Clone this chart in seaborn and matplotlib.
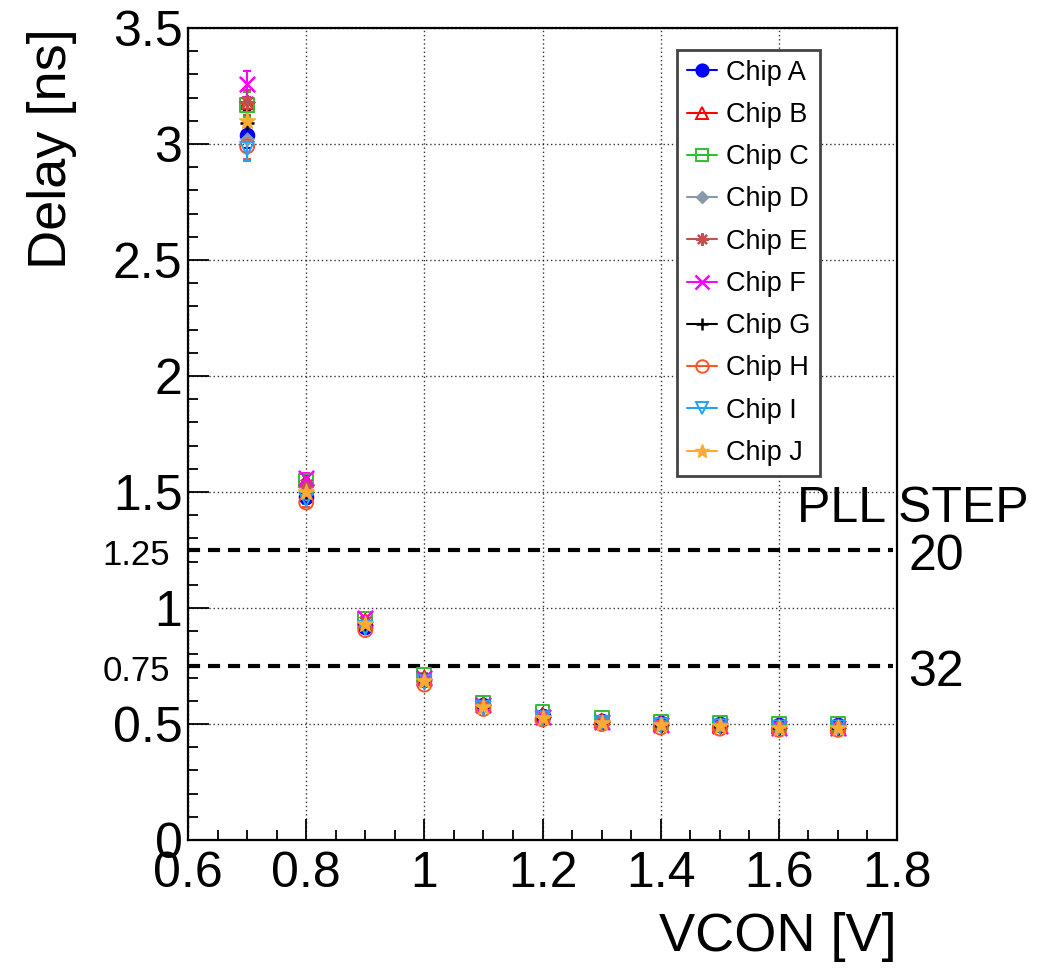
import numpy as np
import pandas as pd
import seaborn as sns
import matplotlib
matplotlib.use("Agg")
import matplotlib.pyplot as plt
import matplotlib.transforms as mtransforms
from matplotlib.lines import Line2D
from matplotlib.ticker import MultipleLocator, FuncFormatter, FixedLocator

# Control voltage settings (V)
vcon = [0.7, 0.8, 0.9, 1.0, 1.1, 1.2, 1.3, 1.4, 1.5, 1.6, 1.7]

# Measured delay per chip (ns)
chip_a = [3.04, 1.48, 0.920, 0.690, 0.580, 0.535, 0.515, 0.505, 0.500, 0.495, 0.495]
chip_b = [3.18, 1.55, 0.945, 0.700, 0.585, 0.540, 0.515, 0.500, 0.495, 0.490, 0.490]
chip_c = [3.17, 1.55, 0.955, 0.710, 0.590, 0.550, 0.525, 0.510, 0.505, 0.500, 0.500]
chip_d = [3.02, 1.49, 0.925, 0.690, 0.575, 0.530, 0.510, 0.500, 0.495, 0.490, 0.490]
chip_e = [3.18, 1.53, 0.940, 0.695, 0.580, 0.530, 0.510, 0.495, 0.490, 0.485, 0.485]
chip_f = [3.26, 1.56, 0.955, 0.700, 0.580, 0.530, 0.510, 0.495, 0.490, 0.485, 0.485]
chip_g = [3.09, 1.50, 0.930, 0.685, 0.575, 0.525, 0.505, 0.495, 0.490, 0.485, 0.485]
chip_h = [2.99, 1.455, 0.905, 0.670, 0.565, 0.520, 0.500, 0.485, 0.480, 0.475, 0.475]
chip_i = [2.98, 1.47, 0.915, 0.680, 0.570, 0.525, 0.505, 0.495, 0.490, 0.485, 0.485]
chip_j = [3.10, 1.50, 0.930, 0.685, 0.575, 0.525, 0.505, 0.495, 0.490, 0.485, 0.485]

# Measurement uncertainty per voltage setting (ns)
delay_err = [0.055, 0.02, 0.01, 0.008, 0.005, 0.005, 0.004, 0.004, 0.004, 0.004, 0.004]

chip_names = ["Chip A", "Chip B", "Chip C", "Chip D", "Chip E",
              "Chip F", "Chip G", "Chip H", "Chip I", "Chip J"]
chip_values = [chip_a, chip_b, chip_c, chip_d, chip_e,
               chip_f, chip_g, chip_h, chip_i, chip_j]

# PLL step reference delays
pll_delays = [1.25, 0.75]
pll_steps = ["20", "32"]

x_ticks = [0.6, 0.8, 1.0, 1.2, 1.4, 1.6, 1.8]
y_ticks = [0, 0.5, 1.0, 1.5, 2.0, 2.5, 3.0, 3.5]

# marker styling per chip: marker, colour, filled, size, linewidth
styles = {
    "Chip A": dict(marker="o", color="#0000ff", filled=True, ms=10, lw=1.2),
    "Chip B": dict(marker="^", color="#ff0000", filled=False, ms=10, lw=1.4),
    "Chip C": dict(marker="s", color="#2fbf2f", filled=False, ms=10, lw=1.4),
    "Chip D": dict(marker="D", color="#8899aa", filled=True, ms=6.5, lw=1.0),
    "Chip E": dict(marker=(8, 2, 0), color="#c0504d", filled=False, ms=10, lw=1.6),
    "Chip F": dict(marker="x", color="#ff00ff", filled=False, ms=11, lw=1.8),
    "Chip G": dict(marker="+", color="#000000", filled=False, ms=10, lw=1.8),
    "Chip H": dict(marker="o", color="#ff5522", filled=False, ms=10, lw=1.4),
    "Chip I": dict(marker="v", color="#1fa3ff", filled=False, ms=10, lw=1.4),
    "Chip J": dict(marker="*", color="#ffaa33", filled=True, ms=12, lw=1.0),
}

df = pd.DataFrame({
    "vcon": np.tile(vcon, len(chip_names)),
    "delay": np.concatenate(chip_values),
    "err": np.tile(delay_err, len(chip_names)),
    "chip": np.repeat(chip_names, len(vcon)),
})

sns.set_theme(style="white")
plt.rcParams["font.family"] = ["Liberation Sans", "DejaVu Sans"]
plt.rcParams["text.color"] = "black"

fig = plt.figure(figsize=(10.41, 9.68), dpi=100)
ax = fig.add_axes([0.1806, 0.1322, 0.6811, 0.8388])

line_markers = {"x", "+"}
for i, name in enumerate(chip_names):
    st = styles[name]
    sub = df[df["chip"] == name]
    ax.errorbar(sub["vcon"], sub["delay"], yerr=sub["err"], fmt="none",
                ecolor=st["color"], elinewidth=1.5, capsize=3, capthick=1.5,
                zorder=3 + i * 0.1)
    kw = dict(marker=st["marker"], s=st["ms"] ** 2, linewidth=st["lw"],
              ax=ax, zorder=4 + i * 0.1, legend=False)
    if st["marker"] in line_markers or isinstance(st["marker"], tuple):
        kw["color"] = st["color"]
    elif st["filled"]:
        kw["color"] = st["color"]
        kw["edgecolor"] = st["color"]
    else:
        kw["facecolor"] = "none"
        kw["edgecolor"] = st["color"]
    sns.scatterplot(data=sub, x="vcon", y="delay", **kw)

# PLL step reference lines
for d in pll_delays:
    ax.axhline(d, xmin=0, xmax=0.994, color="black", lw=3,
               linestyle=(0, (2.9, 1.9)), zorder=2)

ax.set_xlim(0.6, 1.8)
ax.set_ylim(0, 3.5)

fmt = FuncFormatter(lambda v, p: ("%g" % round(v, 3)))
ax.xaxis.set_major_locator(FixedLocator(x_ticks))
ax.yaxis.set_major_locator(FixedLocator(y_ticks))
ax.xaxis.set_major_formatter(fmt)
ax.yaxis.set_major_formatter(fmt)
ax.xaxis.set_minor_locator(MultipleLocator(0.05))
ax.yaxis.set_minor_locator(MultipleLocator(0.1))

ax.tick_params(axis="both", which="both", bottom=True, left=True, top=False, right=False)
ax.tick_params(axis="both", which="major", direction="in", length=15, width=1.3,
               color="black", labelsize=36, labelcolor="black")
ax.tick_params(axis="both", which="minor", direction="in", length=7.5, width=1.3,
               color="black")
ax.tick_params(axis="x", which="major", pad=8)
ax.tick_params(axis="y", which="major", pad=4)

ax.grid(True, which="major", color="black", linestyle=(0, (1, 2)), lw=1.0, alpha=0.8)
for sp in ax.spines.values():
    sp.set_color("black")
    sp.set_linewidth(1.6)

ax.set_xlabel("VCON [V]", fontsize=39, loc="right", color="black")
ax.xaxis.set_label_coords(1.0, -0.089)
ax.xaxis.label.set_va("top")
ax.set_ylabel("Delay [ns]", fontsize=39, loc="top", color="black")
ax.yaxis.set_label_coords(-0.157, 1.0)

# labels for the reference delays and PLL steps
blend = mtransforms.blended_transform_factory(ax.transAxes, ax.transData)
for d, step in zip(pll_delays, pll_steps):
    ax.annotate("%g" % d, xy=(0, d), xycoords=blend, xytext=(-13, -4),
                textcoords="offset points", ha="right", va="center",
                fontsize=25, color="black", annotation_clip=False)
    ax.annotate(step, xy=(1, d), xycoords=blend, xytext=(8, -5),
                textcoords="offset points", ha="left", va="center",
                fontsize=36, color="black", annotation_clip=False)
ax.text(0.859, 1.426, "PLL STEP", transform=blend, ha="left", va="center",
        fontsize=36, color="black", clip_on=False)

handles = []
for name in chip_names:
    st = styles[name]
    filled = st["filled"] or st["marker"] in line_markers or isinstance(st["marker"], tuple)
    handles.append(Line2D([0], [0], color=st["color"], lw=1.5, marker=st["marker"],
                          markersize=st["ms"] * 0.9,
                          markerfacecolor=st["color"] if filled else "none",
                          markeredgecolor=st["color"], markeredgewidth=st["lw"]))
leg = ax.legend(handles, chip_names, loc="upper left", bbox_to_anchor=(0.690, 0.973),
                borderaxespad=0, fontsize=19.5, frameon=True, fancybox=False,
                framealpha=1, edgecolor="#444444", handlelength=1.1,
                handletextpad=0.35, labelspacing=0.6, borderpad=0.36,
                labelcolor="black")
leg.get_frame().set_linewidth(2)
leg.set_zorder(10)

fig.savefig("out.png", dpi=100, facecolor="white")
